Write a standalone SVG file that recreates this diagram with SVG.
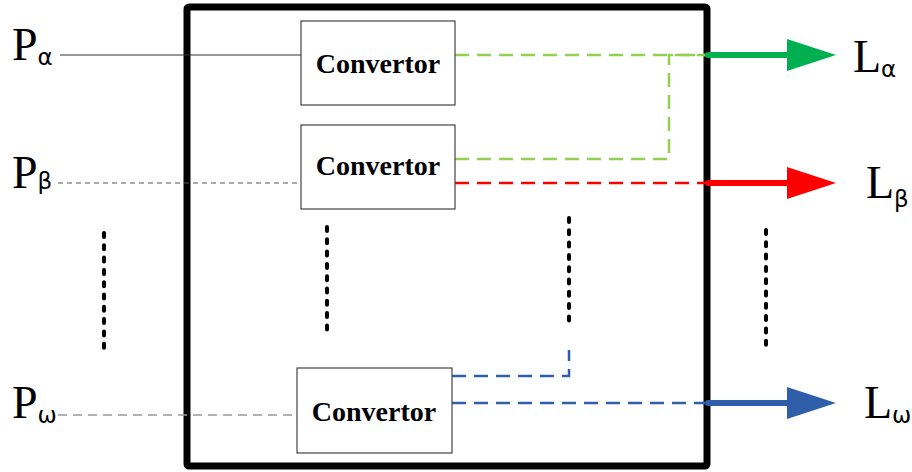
<svg xmlns="http://www.w3.org/2000/svg" width="912" height="472" viewBox="0 0 912 472">
<style>
.box{fill:#fff;stroke:#444;stroke-width:1.2}
.dot{stroke:#000;stroke-width:4;stroke-dasharray:4,8.3;stroke-linecap:round;fill:none}
.cv{font-family:'Liberation Serif','Times New Roman',serif;font-weight:bold;font-size:28px;text-anchor:middle;fill:#000}
.lb{font-family:'Liberation Serif','Times New Roman',serif;font-size:46px;fill:#000}
.sb{font-family:'DejaVu Sans',sans-serif;font-size:23px}
</style>
<rect x="187" y="7" width="520" height="459" fill="none" stroke="#000" stroke-width="7" rx="2"/>
<g id="connectors" fill="none">
<line x1="60" y1="55" x2="301" y2="55" stroke="#333" stroke-width="1.2"/>
<line x1="58" y1="183" x2="297" y2="183" stroke="#555" stroke-width="1" stroke-dasharray="5,4"/>
<line x1="58" y1="415" x2="297" y2="415" stroke="#999" stroke-width="1.5" stroke-dasharray="9,6"/>
<path d="M455 55 H706" stroke="#92D050" stroke-width="2.5" stroke-dasharray="14,8"/>
<path d="M455 159 H669 V55 H706" stroke="#92D050" stroke-width="2.5" stroke-dasharray="14,8"/>
<path d="M455 183 H706" stroke="#FF0000" stroke-width="2.5" stroke-dasharray="14,8"/>
<path d="M452 376 H569 V350" stroke="#2E5FA8" stroke-width="2.5" stroke-dasharray="14,8"/>
<path d="M452 403 H706" stroke="#2E5FA8" stroke-width="2.5" stroke-dasharray="14,8"/>
<line x1="708" y1="55" x2="790" y2="55" stroke="#00B050" stroke-width="6" stroke-linecap="round"/>
<polygon points="787,39 836,55 787,71" fill="#00B050"/>
<line x1="708" y1="183" x2="790" y2="183" stroke="#FF0000" stroke-width="6" stroke-linecap="round"/>
<polygon points="787,167 836,183 787,199" fill="#FF0000"/>
<line x1="708" y1="403" x2="790" y2="403" stroke="#2E5FA8" stroke-width="6" stroke-linecap="round"/>
<polygon points="787,387 836,403 787,419" fill="#2E5FA8"/>
</g>
<g id="dots">
<line class="dot" x1="104" y1="233" x2="104" y2="352"/>
<line class="dot" x1="327" y1="227" x2="327" y2="333"/>
<line class="dot" x1="569" y1="218" x2="569" y2="326"/>
<line class="dot" x1="766" y1="230" x2="766" y2="350"/>
</g>
<g id="conv1"><rect class="box" x="301" y="21" width="154" height="84"/><text class="cv" x="378" y="73">Convertor</text></g>
<g id="conv2"><rect class="box" x="301" y="125" width="154" height="84"/><text class="cv" x="378" y="175">Convertor</text></g>
<g id="convw"><rect class="box" x="297" y="368" width="155" height="85"/><text class="cv" x="374" y="421">Convertor</text></g>
<g id="Pa"><text class="lb" x="12" y="60">P<tspan class="sb" dy="5">α</tspan></text></g>
<g id="Pb"><text class="lb" x="12" y="188">P<tspan class="sb" dy="1">β</tspan></text></g>
<g id="Pw"><text class="lb" x="12" y="418">P<tspan class="sb" dy="5">ω</tspan></text></g>
<g id="La"><text class="lb" x="853" y="72">L<tspan class="sb" dy="5">α</tspan></text></g>
<g id="Lb"><text class="lb" x="866" y="198">L<tspan class="sb" dy="9">β</tspan></text></g>
<g id="Lw"><text class="lb" x="864" y="418">L<tspan class="sb" dy="5">ω</tspan></text></g>
</svg>
